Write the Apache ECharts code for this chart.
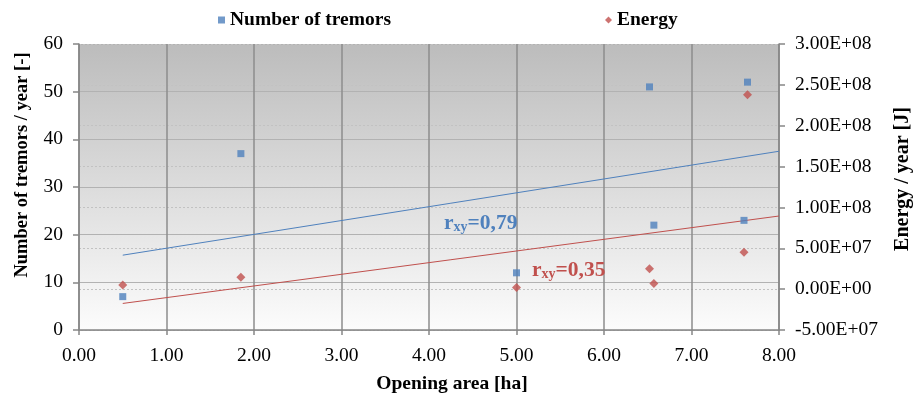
<!DOCTYPE html>
<html>
<head>
<meta charset="utf-8">
<script src="https://cdn.jsdelivr.net/npm/echarts@6/dist/echarts.min.js"></script>
<style>html,body{margin:0;padding:0;background:#fff}#c{width:917px;height:400px}</style>
</head>
<body>
<div id="c"></div>
<script>
// ---- data ----
const openingArea = [0.5, 1.85, 5.0, 6.52, 6.57, 7.6, 7.64];
const tremors     = [7, 37, 12, 51, 22, 23, 52];
const energy      = [5e6, 1.45e7, 2e6, 2.5e7, 7e6, 4.5e7, 2.38e8];
const trendX      = [0.5, 8];
const tremorTrend = [15.7, 37.5];
const energyTrend = [-1.75e7, 8.95e7];
const seriesNames = ['Number of tremors', 'Energy'];
const rLabels     = ['0,79', '0,35'];
const axisTitles  = ['Number of tremors / year [-]', 'Energy / year [J]', 'Opening area [ha]'];

const FONT = "'Liberation Serif', 'Times New Roman', serif";
const BLUE = '#4f81bd', RED = '#c0504d';
const TICK_FS = 19.5;

function sci(v) {
  if (v === 0) return '0.00E+00';
  const e = Math.floor(Math.log10(Math.abs(v)) + 1e-9);
  const m = (v / Math.pow(10, e)).toFixed(2);
  const es = (e < 0 ? '-' : '+') + String(Math.abs(e)).padStart(2, '0');
  return m + 'E' + es;
}

const chart = echarts.init(document.getElementById('c'), null, {renderer: 'canvas'});
const axisLineStyle = {color: '#868686', width: 1.5};
chart.setOption({
  animation: false,
  textStyle: {fontFamily: FONT},
  legend: {
    left: 213, top: 5, itemGap: 214, itemWidth: 7, itemHeight: 7,
    textStyle: {fontFamily: FONT, fontSize: 19.5, fontWeight: 'bold', color: '#000'},
    data: [{name: seriesNames[0], icon: 'rect'}, {name: seriesNames[1], icon: 'diamond'}]
  },
  grid: {
    left: 79, right: 138, top: 44, bottom: 70, show: true, borderWidth: 0,
    backgroundColor: new echarts.graphic.LinearGradient(0, 0, 0, 1, [
      {offset: 0, color: '#bcbcbc'}, {offset: 1, color: '#fcfcfc'}
    ])
  },
  xAxis: {
    type: 'value', min: 0, max: 8, interval: 1,
    axisLine: {show: true, lineStyle: axisLineStyle},
    axisTick: {show: true, length: 5, lineStyle: axisLineStyle},
    axisLabel: {formatter: v => v.toFixed(2), color: '#000', fontSize: TICK_FS, fontFamily: FONT, margin: 16},
    splitLine: {show: true, lineStyle: {color: '#8c8c8c', width: 1.5}}
  },
  yAxis: [{
    type: 'value', min: 0, max: 60, interval: 10, position: 'left',
    axisLine: {show: true, lineStyle: axisLineStyle},
    axisTick: {show: true, length: 6, lineStyle: axisLineStyle},
    axisLabel: {color: '#000', fontSize: TICK_FS, fontFamily: FONT, margin: 16},
    splitLine: {show: true, lineStyle: {color: '#b2b2b2', width: 1.2}}
  }, {
    type: 'value', min: -5e7, max: 3e8, interval: 5e7, position: 'right',
    axisLine: {show: true, lineStyle: axisLineStyle},
    axisTick: {show: true, length: 6, lineStyle: axisLineStyle},
    axisLabel: {color: '#000', fontSize: TICK_FS, fontFamily: FONT, margin: 16, formatter: sci},
    splitLine: {show: true, lineStyle: {color: '#c2c2c2', width: 1, type: [2, 2]}}
  }],
  series: [{
    name: seriesNames[0], type: 'scatter', yAxisIndex: 0, symbol: 'rect', symbolSize: 7,
    itemStyle: {color: BLUE}, z: 5,
    data: openingArea.map((x, i) => [x, tremors[i]])
  }, {
    name: seriesNames[1], type: 'scatter', yAxisIndex: 1, symbol: 'diamond', symbolSize: 9,
    itemStyle: {color: RED}, z: 5,
    data: openingArea.map((x, i) => [x, energy[i]])
  }, {
    name: 'tremorTrend', type: 'line', yAxisIndex: 0, symbol: 'none', silent: true,
    lineStyle: {color: BLUE, width: 1}, z: 4,
    data: trendX.map((x, i) => [x, tremorTrend[i]])
  }, {
    name: 'energyTrend', type: 'line', yAxisIndex: 1, symbol: 'none', silent: true,
    lineStyle: {color: RED, width: 1}, z: 4,
    data: trendX.map((x, i) => [x, energyTrend[i]])
  }],
  graphic: [
    {type: 'text', left: 444, top: 212, z: 10, style: {
      text: '{r|r}{s|xy}{r|=' + rLabels[0] + '}', fill: BLUE,
      rich: {r: {fontSize: 21.5, fontWeight: 'bold', fontFamily: FONT, fill: BLUE, color: BLUE},
             s: {fontSize: 14, fontWeight: 'bold', fontFamily: FONT, fill: BLUE, color: BLUE, padding: [9, 0, 0, 0]}}
    }},
    {type: 'text', left: 532, top: 259, z: 10, style: {
      text: '{r|r}{s|xy}{r|=' + rLabels[1] + '}', fill: RED,
      rich: {r: {fontSize: 21.5, fontWeight: 'bold', fontFamily: FONT, fill: RED, color: RED},
             s: {fontSize: 14, fontWeight: 'bold', fontFamily: FONT, fill: RED, color: RED, padding: [9, 0, 0, 0]}}
    }},
    {type: 'text', x: 22, y: 165, rotation: Math.PI / 2, z: 10, style: {
      text: axisTitles[0], fill: '#000', font: 'bold 18.5px ' + FONT, align: 'center', verticalAlign: 'middle'
    }},
    {type: 'text', x: 903, y: 179, rotation: Math.PI / 2, z: 10, style: {
      text: axisTitles[1], fill: '#000', font: 'bold 20px ' + FONT, align: 'center', verticalAlign: 'middle'
    }},
    {type: 'text', x: 452, y: 384, z: 10, style: {
      text: axisTitles[2], fill: '#000', font: 'bold 19.5px ' + FONT, align: 'center', verticalAlign: 'middle'
    }}
  ]
});
</script>
</body>
</html>
